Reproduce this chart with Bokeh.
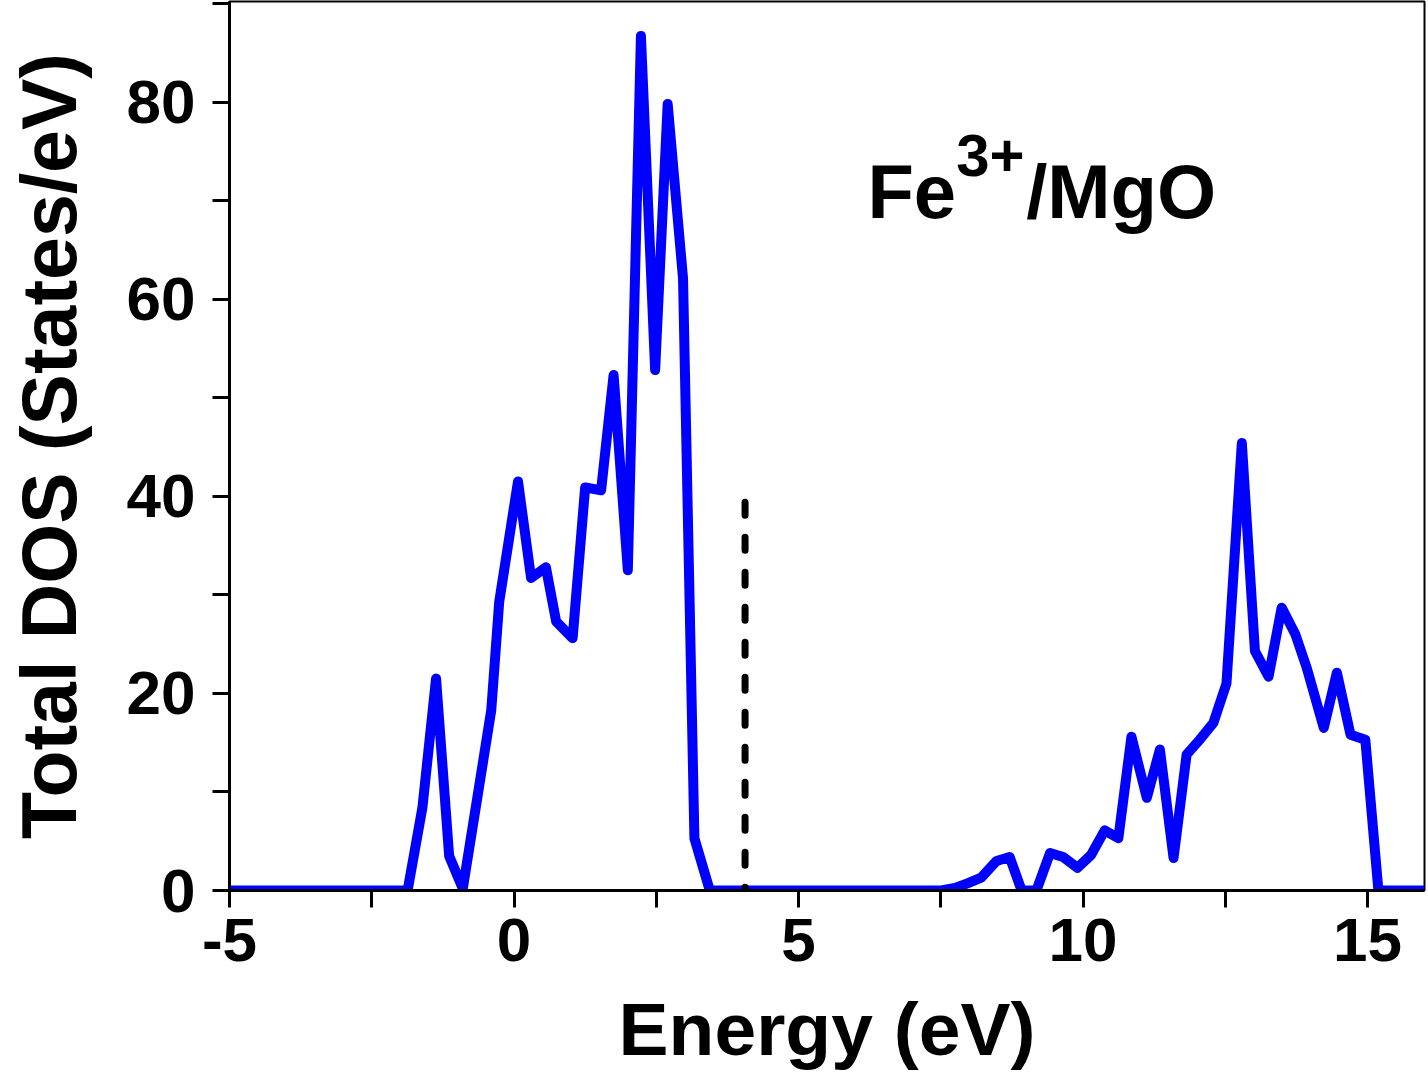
from bokeh.plotting import figure
from bokeh.models import Range1d, FixedTicker, Label, ColumnDataSource
from bokeh.embed import file_html
from bokeh.resources import INLINE

# ---- data ----
energy = [-5.0, -1.87, -1.61, -1.37, -1.14, -0.90, -0.64, -0.40, -0.26, 0.07,
          0.30, 0.56, 0.74, 1.03, 1.25, 1.53, 1.75, 2.00, 2.23, 2.48,
          2.70, 2.97, 3.17, 3.44, 7.51, 7.75, 7.98, 8.21, 8.48, 8.71,
          8.92, 9.18, 9.42, 9.65, 9.90, 10.14, 10.38, 10.62, 10.85, 11.12,
          11.35, 11.59, 11.82, 12.05, 12.29, 12.52, 12.79, 13.02, 13.26, 13.49,
          13.73, 13.93, 14.23, 14.46, 14.70, 14.96, 15.19, 16.0]
dos = [0, 0, 8.4, 21.5, 3.5, 0.2, 9.6, 18.3, 29.3, 41.5,
       31.7, 32.8, 27.3, 25.6, 40.9, 40.6, 52.3, 32.5, 86.7, 52.8,
       79.8, 62.1, 5.3, 0, 0, 0.25, 0.75, 1.3, 3.0, 3.4,
       0, 0, 3.8, 3.4, 2.3, 3.6, 6.1, 5.3, 15.6, 9.4,
       14.3, 3.3, 13.8, 15.3, 17.0, 21.0, 45.4, 24.3, 21.7, 28.7,
       26.0, 22.6, 16.5, 22.1, 15.8, 15.3, 0, 0]

fermi_x = [4.06, 4.06]
fermi_y = [-1.0, 39.5]

x_ticks = [-5, 0, 5, 10, 15]
x_minor = [-2.5, 2.5, 7.5, 12.5]
y_ticks = [0, 20, 40, 60, 80]
y_minor = [10, 30, 50, 70, 90]

x_title = "Energy (eV)"
y_title = "Total DOS (States/eV)"
title_parts = ["Fe", "3+", "/MgO"]

FONT = "Liberation Sans"

p = figure(width=1428, height=1073, output_backend="svg", toolbar_location=None,
           x_range=Range1d(-5, 16), y_range=Range1d(0, 90.2),
           min_border_left=229, min_border_right=4, min_border_top=1,
           min_border_bottom=180)
p.background_fill_color = "white"
p.border_fill_color = "white"
p.outline_line_color = "black"
p.outline_line_width = 2
p.xgrid.visible = False
p.ygrid.visible = False

src = ColumnDataSource(dict(x=energy, y=dos))
p.line("x", "y", source=src, line_color="#0000FF", line_width=10, line_join="round")
p.line(fermi_x, fermi_y, line_color="black", line_width=7, line_dash="13 22",
       line_cap="round")

for ax, ticks, minor in ((p.xaxis[0], x_ticks, x_minor), (p.yaxis[0], y_ticks, y_minor)):
    ax.ticker = FixedTicker(ticks=ticks, minor_ticks=minor)
    ax.major_label_overrides = {t: str(t) for t in ticks}
    ax.axis_line_width = 3
    ax.axis_line_color = "black"
    ax.major_tick_line_width = 3
    ax.minor_tick_line_width = 3
    ax.major_tick_in = 0
    ax.minor_tick_in = 0
    ax.major_tick_out = 17
    ax.minor_tick_out = 17
    ax.major_label_text_font = FONT
    ax.major_label_text_font_style = "bold"
    ax.major_label_text_font_size = "62px"
    ax.major_label_text_color = "black"
    ax.axis_label_text_font = FONT
    ax.axis_label_text_font_style = "bold"
    ax.axis_label_text_color = "black"

p.xaxis.axis_label = x_title
p.yaxis.axis_label = y_title
p.xaxis.axis_label_text_font_size = "75px"
p.yaxis.axis_label_text_font_size = "77px"
p.xaxis.major_label_standoff = 11
p.yaxis.major_label_standoff = 17
p.xaxis.axis_label_standoff = 23
p.yaxis.axis_label_standoff = 32

p.add_layout(Label(x=6.21, y=70.9, text=title_parts[0], text_font=FONT,
                   text_font_style="bold", text_font_size="76px", text_color="black",
                   text_baseline="alphabetic"))
p.add_layout(Label(x=7.77, y=74.6, text=title_parts[1], text_font=FONT,
                   text_font_style="bold", text_font_size="60px", text_color="black",
                   text_baseline="alphabetic"))
p.add_layout(Label(x=9.0, y=70.9, text=title_parts[2], text_font=FONT,
                   text_font_style="bold", text_font_size="76px", text_color="black",
                   text_baseline="alphabetic"))

open("out.html", "w").write(file_html(p, INLINE))
